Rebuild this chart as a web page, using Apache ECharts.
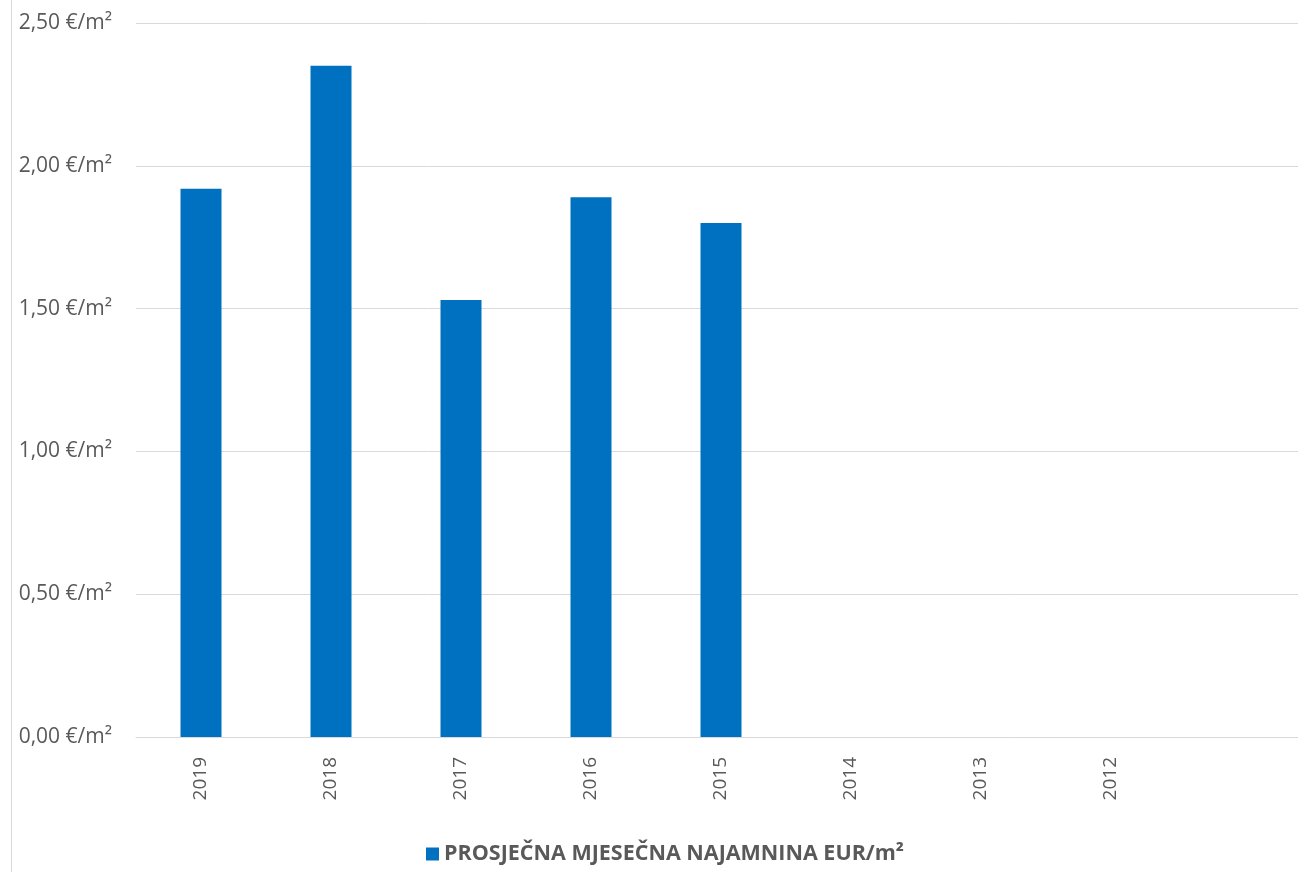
<!DOCTYPE html>
<html><head><meta charset="utf-8">
<script src="https://cdn.jsdelivr.net/npm/echarts@6/dist/echarts.min.js"></script>
<style>html,body{margin:0;padding:0;background:#fff;overflow:hidden}#c{width:1306px;height:872px}</style>
</head><body><div id="c"></div>
<script>
const categories = ['2019','2018','2017','2016','2015','2014','2013','2012',''];
const rentValues = [1.92, 2.35, 1.53, 1.89, 1.80, null, null, null, null];
const seriesName = 'PROSJEČNA MJESEČNA NAJAMNINA EUR/m²';
const yTicks = {min: 0, max: 2.5, interval: 0.5};

const chart = echarts.init(document.getElementById('c'), null, {renderer: 'canvas'});
chart.setOption({
  animation: false,
  backgroundColor: '#fff',
  textStyle: {fontFamily: 'Open Sans'},
  grid: {left: 136, right: 0, top: 23, bottom: 135, containLabel: false},
  legend: {
    data: [seriesName], left: 421, top: 838, icon: 'rect', itemWidth: 13, itemHeight: 13, itemGap: 7,
    textStyle: {color: '#595959', fontSize: 21.5, fontWeight: 'bold', fontFamily: 'Open Sans'}
  },
  xAxis: {
    type: 'category', data: categories,
    axisLine: {show: true, lineStyle: {color: '#d9d9d9', width: 1}},
    axisTick: {show: false},
    axisLabel: {rotate: 90, margin: 20, color: '#595959', fontSize: 19, fontFamily: 'Open Sans', interval: 0}
  },
  yAxis: {
    type: 'value', min: yTicks.min, max: yTicks.max, interval: yTicks.interval,
    axisLine: {show: false}, axisTick: {show: false},
    splitLine: {lineStyle: {color: '#d9d9d9', width: 1}},
    axisLabel: {margin: 24, color: '#595959', fontSize: 21, fontFamily: 'Open Sans',
      formatter: v => v.toFixed(2).replace('.', ',') + ' €/m²'}
  },
  series: [{
    name: seriesName, type: 'bar', data: rentValues, barWidth: 41,
    itemStyle: {color: '#0070C0'}
  }],
  graphic: [{type: 'line', shape: {x1: 11.5, y1: 0, x2: 11.5, y2: 872}, style: {stroke: '#d9d9d9', lineWidth: 1}}]
});
</script></body></html>
